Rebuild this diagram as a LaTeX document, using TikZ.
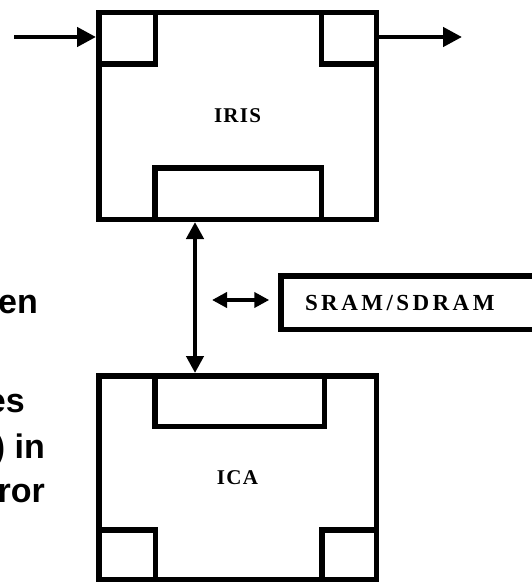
\documentclass[tikz,border=0pt]{standalone}
\usepackage{fontspec}
\setmainfont{Liberation Serif}
\newfontfamily\arialfont{Liberation Sans}
\usetikzlibrary{arrows.meta}
\begin{document}
\begin{tikzpicture}[x=1pt,y=-1pt,
  chip/.style={draw, line width=5.5pt, minimum width=277.5pt, inner sep=0pt,
    font=\bfseries\fontsize{21}{25}\selectfont\addfontfeature{LetterSpace=6}},
  part/.style={line width=5.5pt},
  conn/.style={line width=4.5pt, -{Triangle[length=19pt,width=19pt]}},
  busline/.style={line width=4.5pt, {Triangle[length=17pt,width=17pt]}-{Triangle[length=17pt,width=17pt]}},
  dbl/.style={line width=4.5pt, {Triangle[length=15pt,width=15pt]}-{Triangle[length=15pt,width=15pt]}},
  memory/.style={draw, line width=5.5pt, minimum height=53.5pt, inner xsep=24pt, inner ysep=0pt,
    text width=240pt, align=left,
    font=\bfseries\fontsize{23}{27}\selectfont\addfontfeature{LetterSpace=15}},
  cuttext/.style={font=\arialfont\bfseries\fontsize{34}{40}\selectfont, inner sep=0pt, anchor=base east}
]
\useasboundingbox (0,0) rectangle (532,583);
\clip (0,0) rectangle (532,583);

% IRIS block
\node[chip, minimum height=206.5pt] (iris) at (237.5,116) {IRIS};
\draw[part] (98.75,12.75) rectangle (155.25,64.25);
\draw[part] (321.5,12.75) rectangle (376.25,64.25);
\draw[part] (154.75,219.25) rectangle (321.25,167.75);

% ICA block
\node[chip, minimum height=203.5pt] (ica) at (237.5,477.5) {ICA};
\draw[part] (154.75,375.75) rectangle (324.25,426.25);
\draw[part] (98.75,579.25) rectangle (155.25,529.75);
\draw[part] (321.75,579.25) rectangle (376.25,529.75);

% memory
\node[memory, anchor=west] (sram) at (278.25,302.5) {SRAM/SDRAM};

% connectors
\coordinate (in) at (14,37);
\coordinate (out) at (462,37);
\coordinate (bus) at (195,0);
\coordinate (hl) at (212,300);
\draw[conn] (in) -- (in -| iris.west);
\draw[conn] (out -| iris.east) -- (out);
\draw[busline] (iris.south -| bus) -- (ica.north -| bus);
\draw[dbl, shorten >=9pt] (hl) -- (hl -| sram.west);

% text cut off at the left edge, as in the reference
\node[cuttext] (t1) at (38,313) {en};
\node[cuttext] (t2) at (25,412) {es};
\node[cuttext] (t3) at (45,458) {) in};
\node[cuttext] (t4) at (45,502) {ror};
\end{tikzpicture}
\end{document}
